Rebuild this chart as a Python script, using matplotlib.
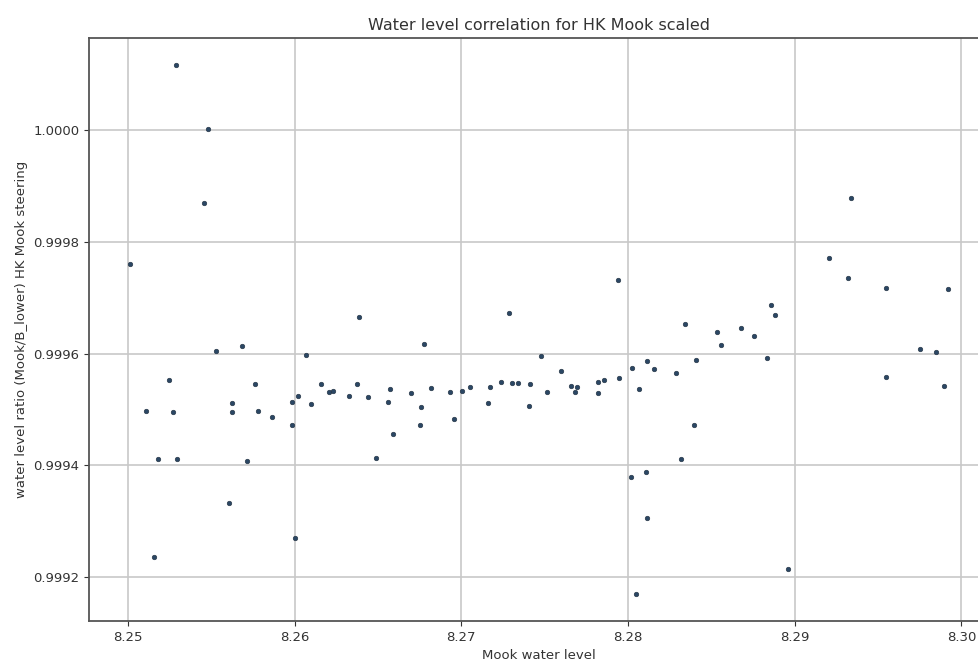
import matplotlib

matplotlib.use("Agg")
import matplotlib.pyplot as plt

# Mook water level (x) vs. scaled ratio (y)
mook_level = [
    8.25014, 8.25110, 8.25159, 8.25183, 8.25248, 8.25272, 8.25290, 8.25296,
    8.25457, 8.25483, 8.25529, 8.25609, 8.25627, 8.25627, 8.25683, 8.25715,
    8.25763, 8.25779, 8.25867, 8.25987, 8.25987, 8.26005, 8.26021, 8.26069,
    8.26101, 8.26157, 8.26205, 8.26229, 8.26327, 8.26376, 8.26385, 8.26441,
    8.26489, 8.26562, 8.26573, 8.26592, 8.26698, 8.26752, 8.26760, 8.26778,
    8.26818, 8.26932, 8.26956, 8.27004, 8.27052, 8.27158, 8.27172, 8.27236,
    8.27286, 8.27302, 8.27342, 8.27408, 8.27414, 8.27478, 8.27512, 8.27598,
    8.27656, 8.27680, 8.27695, 8.27818, 8.27818, 8.27857, 8.27938, 8.27945,
    8.28017, 8.28025, 8.28049, 8.28067, 8.28107, 8.28115, 8.28115, 8.28155,
    8.28285, 8.28317, 8.28341, 8.28397, 8.28407, 8.28535, 8.28559, 8.28679,
    8.28753, 8.28831, 8.28857, 8.28881, 8.28960, 8.29203, 8.29317, 8.29338,
    8.29550, 8.29550, 8.29750, 8.29848, 8.29896, 8.29920,
]

level_ratio = [
    0.999760, 0.999498, 0.999236, 0.999411, 0.999553, 0.999495, 1.000117, 0.999411,
    0.999870, 1.000002, 0.999605, 0.999332, 0.999512, 0.999495, 0.999613, 0.999408,
    0.999546, 0.999498, 0.999486, 0.999514, 0.999472, 0.999270, 0.999524, 0.999598,
    0.999510, 0.999546, 0.999531, 0.999534, 0.999524, 0.999546, 0.999665, 0.999522,
    0.999413, 0.999514, 0.999536, 0.999457, 0.999529, 0.999473, 0.999505, 0.999618,
    0.999538, 0.999531, 0.999483, 0.999534, 0.999541, 0.999512, 0.999541, 0.999550,
    0.999673, 0.999548, 0.999548, 0.999507, 0.999546, 0.999596, 0.999531, 0.999569,
    0.999543, 0.999531, 0.999541, 0.999550, 0.999529, 0.999553, 0.999731, 0.999557,
    0.999380, 0.999574, 0.999169, 0.999536, 0.999389, 0.999586, 0.999305, 0.999572,
    0.999565, 0.999411, 0.999653, 0.999473, 0.999589, 0.999639, 0.999615, 0.999646,
    0.999632, 0.999593, 0.999687, 0.999670, 0.999215, 0.999771, 0.999735, 0.999879,
    0.999718, 0.999559, 0.999608, 0.999603, 0.999543, 0.999716,
]

x_ticks = [8.25, 8.26, 8.27, 8.28, 8.29, 8.30]
y_ticks = [0.9992, 0.9994, 0.9996, 0.9998, 1.0000]

fig = plt.figure(figsize=(9.79, 6.64), dpi=100)
# the right edge of the axes runs just past the picture, like the cropped screenshot
ax = fig.add_axes([0.0912, 0.0648, 0.919, 0.8775])

ax.scatter(mook_level, level_ratio, s=11, color="#2b4764", edgecolors="#22303f",
           linewidths=0.4, zorder=3)

ax.set_xticks(x_ticks)
ax.set_xticklabels([f"{v:.2f}" for v in x_ticks])
ax.set_yticks(y_ticks)
ax.set_yticklabels([f"{v:.4f}" for v in y_ticks])
ax.tick_params(labelsize=9.5, colors="#333333", labelcolor="#333333")

ax.grid(True, color="#c8c8c8", linewidth=1.2)
ax.set_axisbelow(True)
for spine in ax.spines.values():
    spine.set_color("#555555")
    spine.set_linewidth(1.3)
ax.spines["right"].set_visible(False)

ax.set_xlabel("Mook water level", fontsize=9.5, color="#333333")
ax.set_ylabel("water level ratio (Mook/B_lower) HK Mook steering", fontsize=9.5,
              color="#333333")
ax.set_title("Water level correlation for HK Mook scaled", fontsize=11.5, color="#333333")

fig.savefig("out.png", dpi=100)
